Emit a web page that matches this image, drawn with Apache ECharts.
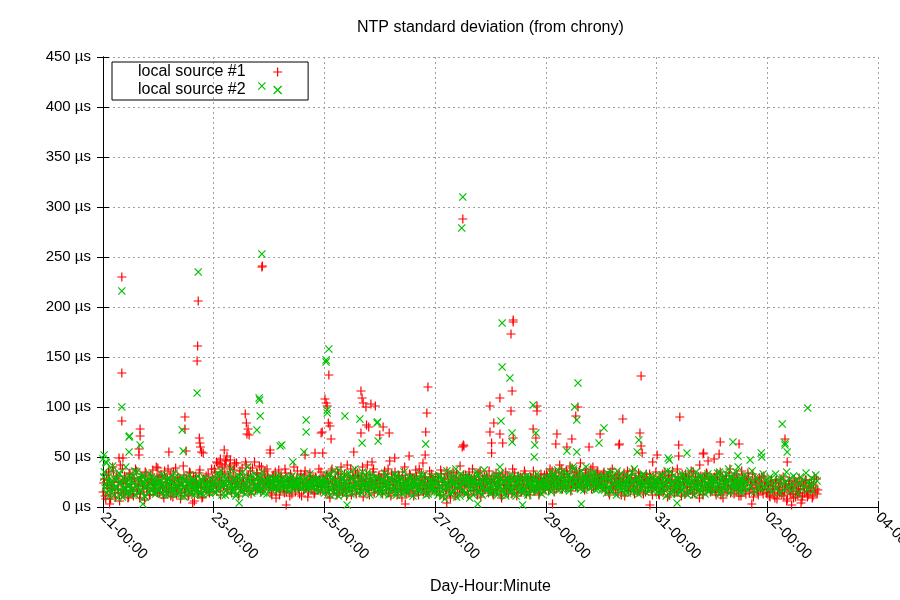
<!DOCTYPE html>
<html>
<head>
<meta charset="utf-8">
<script src="https://cdn.jsdelivr.net/npm/echarts@6/dist/echarts.min.js"></script>
<style>html,body{margin:0;padding:0;background:#fff}#c{width:900px;height:600px}</style>
</head>
<body>
<div id="c"></div>
<script>
// x values are days since 21-00:00
const xTickLabels = ['21-00:00','23-00:00','25-00:00','27-00:00','29-00:00','31-00:00','02-00:00','04-00:00'];
const yTickUnit = ' µs';
const seriesNames = ['local source #1', 'local source #2'];
const sampleStepDays = 0.025;   // poll interval (two interleaved polls per step)

// source #1 (red +) regular samples, µs
const src1Values = [
15,28,8,22,35,12,19,40,25,10,31,17,6,24,38,14,27,20,9,33,16,29,11,23,36,18,26,13,30,21,7,34,19,25,12,28,37,16,22,30,
26,14,32,20,9,29,17,38,23,11,27,35,19,13,30,22,8,25,41,16,28,21,12,34,18,26,6,31,23,15,37,20,10,27,24,17,33,14,21,29,
22,35,16,44,28,12,40,21,33,47,18,26,38,14,30,42,20,25,11,36,23,29,16,45,19,32,24,13,39,27,17,34,22,41,15,28,20,36,25,31,
18,27,12,32,21,9,25,37,16,29,22,14,34,19,26,11,30,23,40,15,28,20,13,33,24,17,36,21,10,27,31,18,25,14,29,22,38,16,24,30,
25,14,31,20,9,36,23,17,28,12,33,22,40,15,27,19,11,30,24,38,16,29,21,13,34,26,18,31,10,23,28,42,17,25,20,35,14,27,22,30,
20,29,13,33,24,17,38,22,11,28,19,35,26,15,31,21,9,27,40,18,24,14,32,23,16,29,37,20,12,26,34,18,25,30,15,22,36,19,27,24,
23,14,30,19,37,25,11,28,17,33,22,9,26,35,18,29,13,24,41,20,27,15,32,21,12,30,24,38,16,27,19,34,22,10,28,25,17,31,20,36,
18,28,12,25,34,16,22,30,9,27,19,35,23,14,29,21,38,17,26,11,31,24,15,28,20,33,13,25,18,30,22,36,16,27,21,12,29,24,19,32,
24,31,17,38,22,28,15,34,26,20,42,29,18,33,25,36,21,30,16,39,27,23,35,19,31,44,24,28,17,37,22,32,26,18,40,29,21,34,25,30,
28,20,35,16,26,31,12,24,38,19,29,22,14,33,25,18,30,11,27,36,21,16,32,24,13,29,20,34,17,26,23,30,15,28,19,33,22,12,27,24,
19,27,12,30,22,16,35,24,10,28,18,32,21,14,26,38,17,25,11,29,23,33,15,27,20,36,13,24,30,18,26,9,31,22,17,28,34,20,25,15,
16,24,30,12,27,20,35,18,9,26,31,15,22,38,19,28,13,25,33,17,23,11,29,21,16,27,34,14,24,19,10,28,22,15,26,18,30,13,21,25,
15,22,10,27,18,12,24,8,20,14,28,17,11,23,6,19,26,13,21,9,25,16,12,29,18,7,22,14,27,10,20,16,24,11,30,18,13
];
// source #1, interleaved polls (half a step later)
const src1ValuesB = [
24,11,33,19,27,8,21,36,14,29,18,25,42,12,23,31,16,26,10,34,20,13,28,38,17,24,9,30,22,15,35,19,27,12,32,25,18,23,40,14,
31,19,24,12,36,22,28,15,33,20,10,26,39,17,24,29,14,21,32,18,27,11,35,23,16,30,20,25,13,34,22,9,28,19,31,24,15,26,38,21,
38,24,30,19,43,26,35,22,46,17,31,40,25,20,37,28,44,23,33,18,39,26,21,42,30,16,36,27,22,45,19,34,29,24,40,18,33,26,38,23,
23,14,30,20,35,17,26,12,31,24,19,38,15,27,22,33,13,28,20,25,36,18,29,11,24,32,19,26,15,34,21,28,13,30,23,17,27,35,20,26,
19,32,24,13,28,38,18,26,21,35,14,29,24,17,33,22,42,19,27,12,31,25,36,18,29,15,22,40,26,17,33,21,12,29,24,38,19,27,16,32,
27,16,24,36,20,30,14,25,33,18,28,22,12,31,24,17,35,21,29,13,26,33,19,28,11,24,31,17,38,22,27,15,30,20,24,13,29,33,18,26,
30,19,26,12,33,22,29,17,36,24,14,31,20,27,11,34,23,18,29,15,32,22,26,13,35,20,28,17,30,24,12,27,36,21,16,31,23,28,14,25,
25,14,31,21,17,29,24,12,33,22,27,16,30,19,25,13,28,34,21,18,26,30,15,23,36,19,27,22,12,29,25,17,31,20,26,14,33,22,28,17,
33,26,20,29,36,24,31,18,27,35,22,38,26,30,19,33,27,41,23,28,34,20,30,25,37,22,29,19,34,26,31,23,38,27,20,32,24,36,28,22,
22,33,26,19,30,14,35,25,21,28,17,32,24,29,12,26,34,20,31,16,27,23,36,18,29,25,15,31,22,27,13,26,33,20,24,30,17,28,21,35,
24,13,29,20,33,17,26,21,31,12,24,36,19,27,15,30,22,18,33,25,13,28,20,31,17,23,35,14,26,21,30,16,24,12,29,19,33,23,18,27,
21,29,15,33,18,24,12,30,23,17,28,20,34,14,26,22,31,16,27,11,24,36,19,28,13,25,30,18,22,33,15,27,20,12,29,24,17,31,22,14,
18,11,25,16,21,9,27,14,19,24,12,30,17,22,8,26,15,20,13,28,10,23,18,14,25,11,21,27,16,12,24,19,9,22,15,28,17
];

// source #2 (green x) regular samples, µs
const src2Values = [
48,35,22,14,30,18,25,41,12,20,28,16,33,24,10,19,27,15,22,31,13,26,18,36,21,14,29,17,24,32,11,20,26,15,23,30,18,25,13,22,
18,27,14,23,31,16,22,12,28,19,25,15,30,21,13,24,17,29,11,20,26,16,22,14,27,19,12,24,18,21,15,28,13,23,17,20,25,14,19,22,
20,15,28,34,19,24,12,30,22,17,26,14,33,21,18,27,11,24,29,16,22,35,19,13,26,20,31,15,24,18,28,22,16,25,30,19,14,27,21,23,
22,18,27,24,20,29,16,25,21,28,19,23,26,17,30,22,24,18,27,21,25,20,28,23,19,26,22,29,17,24,21,27,20,25,18,23,28,16,22,26,
14,25,32,19,12,28,22,36,17,24,11,30,20,27,15,33,23,18,26,13,29,21,38,16,25,20,31,14,27,22,18,34,24,12,28,19,26,21,30,17,
22,17,28,13,25,31,19,24,15,27,20,33,12,26,18,23,29,16,21,25,14,30,19,24,11,27,22,17,28,20,25,15,32,18,23,13,26,21,19,24,
18,26,12,30,21,15,28,8,24,19,34,13,27,22,16,38,20,25,11,29,17,23,31,14,26,9,21,28,18,24,35,15,22,27,12,20,30,17,25,19,
21,14,27,18,32,12,24,20,29,16,25,11,22,28,15,19,26,13,30,23,17,21,27,14,24,18,31,12,22,26,16,20,28,15,23,19,25,13,21,27,
24,18,30,22,15,27,33,20,25,17,29,23,36,19,26,21,31,16,28,24,38,20,27,22,34,18,25,30,21,40,23,28,19,26,32,22,17,29,24,20,
25,18,31,22,14,28,20,35,16,24,29,12,26,21,33,17,23,19,27,14,30,22,25,16,38,20,28,13,24,19,32,22,15,27,21,26,18,30,23,17,
20,28,14,25,32,18,23,11,27,21,35,16,24,19,29,13,22,26,17,31,20,14,27,23,36,18,25,12,28,21,16,30,24,19,26,13,22,33,17,25,
22,15,28,19,34,24,13,27,20,31,17,25,38,21,16,29,23,26,18,40,22,14,27,19,32,24,17,28,21,36,25,15,30,20,26,18,23,33,19,27,
24,18,30,15,26,21,33,19,27,14,23,29,17,25,35,20,28,16,22,31,19,26,13,24,30,18,27,21,34,17,25,22,29,16,23,32,26
];
// source #2, interleaved polls (half a step later; this poll stops near 02-14:00)
const src2ValuesB = [
30,19,44,26,11,23,37,17,28,21,9,34,25,15,29,20,40,13,27,22,17,31,24,12,35,19,26,16,30,23,10,27,21,33,18,25,14,29,20,24,
16,25,33,20,12,27,22,29,15,24,19,34,13,26,21,17,30,23,10,28,18,25,32,14,22,27,20,16,31,24,13,26,19,29,23,15,21,28,17,25,
27,14,23,31,18,36,21,25,12,29,19,24,38,16,27,22,13,32,20,26,15,30,23,18,40,21,27,14,25,33,19,22,29,16,24,35,20,26,13,28,
25,30,19,23,27,21,32,18,26,24,29,20,22,28,16,25,31,23,19,27,24,21,30,18,26,22,28,20,25,33,23,19,27,21,29,24,17,26,23,20,
28,20,15,33,24,18,30,13,26,21,37,17,23,29,12,25,20,34,16,28,22,19,31,24,14,27,21,35,18,23,30,15,26,20,32,22,17,29,24,13,
16,27,21,34,19,25,12,29,22,18,26,31,15,24,20,28,13,35,22,17,27,23,19,30,25,14,21,28,16,33,24,20,26,12,29,22,18,25,31,15,
24,15,32,20,27,11,25,19,36,22,14,29,24,17,31,10,26,21,33,16,24,28,13,22,30,18,25,12,27,20,32,23,15,28,21,37,17,24,29,14,
26,19,23,30,15,27,21,34,18,24,13,29,20,25,32,17,22,28,11,26,21,31,16,24,19,28,14,25,30,20,23,17,27,33,18,24,21,29,16,22,
29,21,26,35,18,31,24,20,37,27,22,32,17,28,25,34,20,29,23,40,19,26,31,24,21,36,28,17,30,25,22,33,27,20,35,24,29,18,31,26,
21,30,17,26,34,20,27,15,31,23,19,36,25,18,28,22,14,32,24,20,29,17,35,26,21,15,30,23,27,18,33,25,20,28,16,31,24,19,26,22,
26,17,31,22,15,29,24,36,19,27,13,25,32,21,18,28,23,15,33,26,20,29,12,24,30,17,27,22,35,19,25,14,31,21,27,18,24,30,16,28,
25,30,18,26,22,35,16,29,24,20,33,27,14,31,23,19,28,35,21,26,17,30,24,20
];

// irregular / outlying samples [day, µs]
const src1Peaks = [
[0.34,230],[0.34,134],[0.34,86],[0.36,49],[0.29,49],[0.67,78],[0.67,71],[0.65,58],[0.65,52],[1.19,55],[1.48,90],[1.48,78],[1.50,56],[0.99,39],
[1.72,206],[1.71,161],[1.70,146],[1.74,69],[1.75,64],[1.76,60],[1.78,55],[1.81,54],[2.05,45],[2.12,48],[2.19,57],[2.24,51],[2.20,42],[2.30,47],[2.38,44],
[2.57,93],[2.59,84],[2.62,78],[2.60,73],[2.64,72],[2.87,240],[2.88,241],[3.02,57],[3.02,54],[3.65,52],[3.83,54],[3.97,54],[3.94,74],
[4.08,132],[4.01,108],[4.03,104],[4.05,101],[4.07,84],[4.10,81],[3.96,75],[4.12,68],[4.53,55],[4.66,116],[4.68,109],[4.70,104],[4.84,103],
[4.92,101],[4.75,100],[4.76,82],[4.80,80],[5.06,80],[5.17,74],[4.66,74],[5.00,72],[4.86,45],[5.18,46],[5.27,49],[5.53,51],
[5.87,120],[5.85,94],[5.83,75],[5.82,52],[5.78,44],[6.49,60],[6.51,62],[6.52,61],[6.50,288],
[7.41,187],[7.41,185],[7.37,173],[7.39,116],[7.17,109],[6.99,101],[7.37,96],[7.06,84],[6.99,75],[7.17,73],[7.41,69],[7.22,64],[7.02,64],[7.02,54],
[7.84,101],[7.84,96],[7.77,78],[7.82,69],[8.58,100],[8.54,91],[8.20,73],[8.18,63],[8.47,68],[8.38,60],[8.78,60],[8.98,73],
[9.32,62],[9.33,63],[9.39,88],[9.70,74],[9.72,61],[9.74,54],[9.72,131],[9.93,45],[10.01,52],[10.42,90],[10.40,62],[10.40,51],
[10.78,42],[10.84,53],[10.85,54],[10.93,46],[11.04,48],[11.13,53],[11.15,65],[11.49,63],[12.32,68],[12.36,45],
[0.12,3],[1.62,4],[3.31,2],[5.46,3],[6.21,4],[8.12,3],[9.88,2],[11.72,3],[12.44,2],[12.61,4]
];
const src2Peaks = [
[0.02,52],[0.05,45],[0.34,216],[0.34,100],[0.47,70],[0.48,71],[0.67,62],[0.47,55],[1.43,77],[1.45,56],[1.72,235],[1.70,114],
[2.87,253],[2.87,421],[2.82,109],[2.83,107],[2.84,91],[2.78,77],[3.20,61],[3.23,62],[3.43,45],[3.67,87],[3.67,75],[3.63,55],
[4.08,158],[4.03,147],[4.03,145],[4.05,94],[4.05,97],[4.37,91],[4.64,88],[4.68,64],[4.95,84],[4.96,85],[4.97,66],[5.83,63],
[6.50,310],[6.48,279],[7.21,184],[7.21,140],[7.35,129],[7.19,86],[7.39,74],[7.39,65],[7.17,40],[7.77,102],[7.82,74],[7.80,62],[7.79,50],
[8.58,124],[8.52,100],[8.56,87],[8.56,55],[8.38,56],[9.05,79],[8.96,64],[9.68,67],[9.65,55],[10.21,49],[10.23,47],[10.55,54],
[11.38,65],[11.47,51],[11.69,47],[11.89,54],[11.90,50],[12.27,83],[12.32,62],[12.32,64],[12.36,55],[12.73,99],
[0.72,3],[2.46,4],[4.41,2],[6.77,3],[7.58,2],[8.64,3],[10.37,4]
];

const plusPath = 'path://M0,3.9h9v1.2h-9zM3.9,0h1.2v9h-1.2z';
const crossPath = 'path://M0,0.85L0.85,0L8,7.15L7.15,8ZM7.15,0L8,0.85L0.85,8L0,7.15Z';
const FONT = 'Liberation Sans, Arial, sans-serif';

const toPoints = (vals, offset) => vals.map((v, i) => [(i + offset) * sampleStepDays, v]);
const src1Data = toPoints(src1Values, 0).concat(toPoints(src1ValuesB, 0.5), src1Peaks);
const src2Data = toPoints(src2Values, 0).concat(toPoints(src2ValuesB, 0.5), src2Peaks);

const chart = echarts.init(document.getElementById('c'), null, {renderer: 'canvas'});
const gridLine = {show: true, lineStyle: {color: '#a0a0a0', type: [2, 3], width: 1}};
const axLine = {show: true, lineStyle: {color: '#000', width: 1}};
const axTick = {show: true, inside: true, length: 6, lineStyle: {color: '#000'}};
chart.setOption({
  animation: false,
  backgroundColor: '#fff',
  textStyle: {fontFamily: FONT},
  title: {
    text: 'NTP standard deviation (from chrony)',
    left: 352, top: 15,
    textStyle: {fontSize: 16, fontWeight: 'normal', color: '#000', fontFamily: FONT}
  },
  legend: {
    orient: 'vertical', left: 112, top: 62, align: 'right',
    itemWidth: 54, itemHeight: 9, itemGap: 0,
    padding: [1, 26, 1, 26],
    borderColor: '#000', borderWidth: 1,
    selectedMode: false, symbolKeepAspect: true,
    textStyle: {fontSize: 16, lineHeight: 18, color: '#000', fontFamily: FONT},
    data: [{name: seriesNames[0], icon: plusPath}, {name: seriesNames[1], icon: crossPath}]
  },
  grid: {left: 103, right: 22, top: 57, bottom: 93, containLabel: false, outerBoundsMode: 'none'},
  xAxis: [{
    type: 'value', min: 0, max: 14, interval: 2, position: 'bottom',
    axisLine: axLine, axisTick: axTick, splitLine: gridLine,
    axisLabel: {rotate: -45, fontSize: 15, color: '#000', margin: 8, fontFamily: FONT,
      formatter: v => xTickLabels[Math.round(v / 2)]},
    name: 'Day-Hour:Minute', nameLocation: 'middle', nameGap: 72,
    nameTextStyle: {fontSize: 16, color: '#000', fontFamily: FONT}
  }, {
    type: 'value', min: 0, max: 14, interval: 2, position: 'top',
    axisLine: axLine, axisTick: axTick, splitLine: {show: false}, axisLabel: {show: false}
  }],
  yAxis: [{
    type: 'value', min: 0, max: 450, interval: 50, position: 'left',
    axisLine: axLine, axisTick: axTick, splitLine: gridLine,
    axisLabel: {fontSize: 15, color: '#000', margin: 12, fontFamily: FONT, formatter: v => v + yTickUnit}
  }, {
    type: 'value', min: 0, max: 450, interval: 50, position: 'right',
    axisLine: axLine, axisTick: axTick, splitLine: {show: false}, axisLabel: {show: false}
  }],
  series: [{
    name: seriesNames[0], type: 'scatter', xAxisIndex: 0, yAxisIndex: 0,
    symbol: plusPath, symbolSize: 9, symbolKeepAspect: true, silent: true,
    itemStyle: {color: '#ff0000', opacity: 1}, data: src1Data
  }, {
    name: seriesNames[1], type: 'scatter', xAxisIndex: 0, yAxisIndex: 0,
    symbol: crossPath, symbolSize: 8, symbolKeepAspect: true, silent: true,
    itemStyle: {color: '#00c000', opacity: 1}, data: src2Data
  }]
});
</script>
</body>
</html>
